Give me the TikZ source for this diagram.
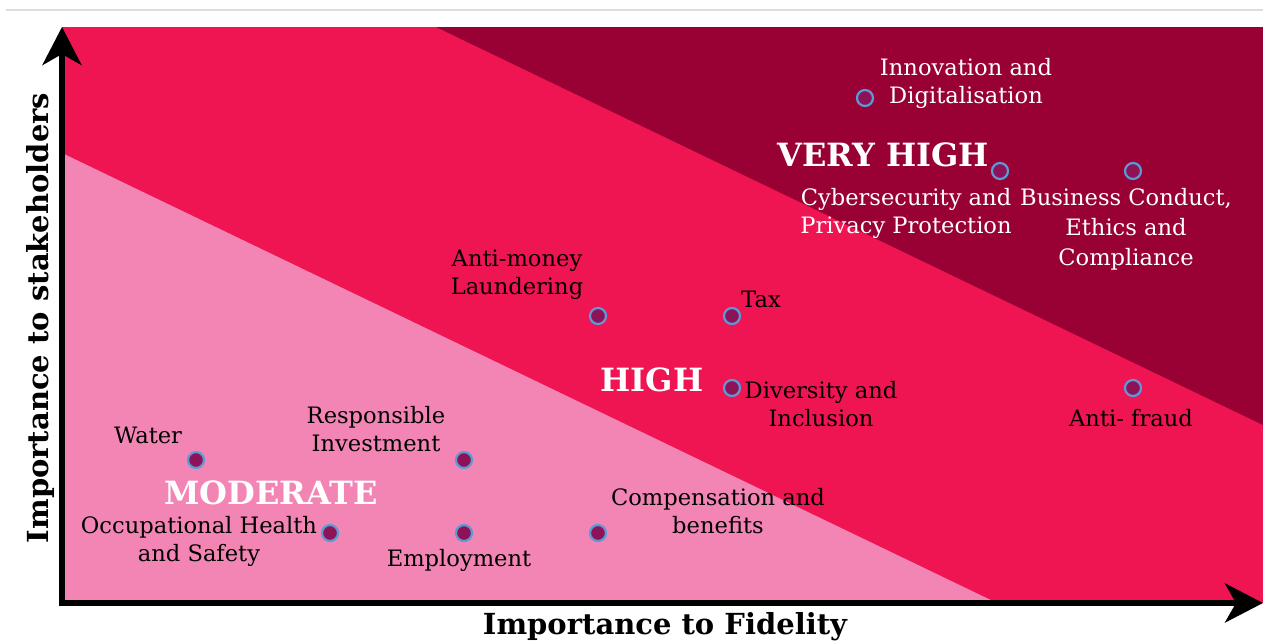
\documentclass[tikz,border=0pt]{standalone}
\usepackage{fontspec}
\setmainfont{DejaVu Serif}
\usetikzlibrary{arrows.meta}
\definecolor{lightpk}{HTML}{F385B5}
\definecolor{midpk}{HTML}{EF1452}
\definecolor{darkpk}{HTML}{990033}
\definecolor{dotfill}{HTML}{8E1257}
\definecolor{dotring}{HTML}{5B9BD5}
\definecolor{rulegray}{HTML}{DDDDDD}
\tikzset{
  dot/.style={circle,draw=dotring,fill=dotfill,line width=2.2pt,minimum size=16pt,inner sep=0pt},
  lbl/.style={font=\fontsize{22.6}{28}\selectfont,align=center,inner sep=0pt},
  lblw/.style={lbl,text=white},
  lblk/.style={lbl,text=black},
  level/.style={font=\fontsize{32}{34}\selectfont\bfseries,text=white,inner sep=0pt},
  axis/.style={line width=6pt,-{Stealth[length=38pt,width=39pt,inset=11pt]}},
  axlabel/.style={font=\fontsize{29}{32}\selectfont\bfseries,inner sep=0pt}
}
\begin{document}
\begin{tikzpicture}[x=1pt,y=-1pt]
\useasboundingbox (0,0) rectangle (1263,643);
\draw[rulegray,line width=2pt] (6,10) -- (1263,10);
% bands
\fill[midpk] (62,27) rectangle (1263,603);
\fill[darkpk] (436,27) -- (1263,27) -- (1263,425) -- cycle;
\fill[lightpk] (62,153) -- (997,603) -- (62,603) -- cycle;
% axes
\coordinate (origin) at (62,603);
\coordinate (ytip) at (62,27);
\coordinate (xtip) at (1263,603);
\draw[axis] (origin) -- (ytip);
\draw[axis] ([xshift=-3pt]origin) -- (xtip);
\node[axlabel,rotate=90] (ylab) at (40,318) {Importance to stakeholders};
\node[axlabel] (xlab) at (665,627) {Importance to Fidelity};
% levels
\node[level] (vh) at (883,155) {VERY HIGH};
\node[level] (hi) at (652,380) {HIGH};
\node[level] (mo) at (271,493) {MODERATE};
% dots
\node[dot] (innov) at (865,98) {};
\node[dot] (cyber) at (1000,171) {};
\node[dot] (busin) at (1133,171) {};
\node[dot] (aml) at (598,316) {};
\node[dot] (tax) at (732,316) {};
\node[dot] (div) at (732,388) {};
\node[dot] (fraud) at (1133,388) {};
\node[dot] (water) at (196,460) {};
\node[dot] (resp) at (464,460) {};
\node[dot] (ohs) at (330,533) {};
\node[dot] (empl) at (464,533) {};
\node[dot] (comp) at (598,533) {};
% labels
\node[lblw] (innovL) at (966,83) {Innovation and\\Digitalisation};
\node[lblw] (cyberL) at (906,213) {Cybersecurity and\\Privacy Protection};
\node[lblw,font=\fontsize{22.6}{30}\selectfont] (businL) at (1126,229) {Business Conduct,\\Ethics and\\Compliance};
\node[lblk] (amlL) at (517,275) {Anti-money\\Laundering};
\node[lblk,anchor=west] (taxL) at (741,299) {Tax};
\node[lblk] (divL) at (821,404) {Diversity and\\Inclusion};
\node[lblk] (fraudL) at (1131,418) {Anti- fraud};
\node[lblk] (waterL) at (148,435) {Water};
\node[lblk] (respL) at (376,429) {Responsible\\Investment};
\node[lblk] (ohsL) at (199,541) {Occupational Health\\and Safety};
\node[lblk] (emplL) at (459,560) {Employment};
\node[lblk] (compL) at (718,511) {Compensation and\\benefits};
\end{tikzpicture}
\end{document}
